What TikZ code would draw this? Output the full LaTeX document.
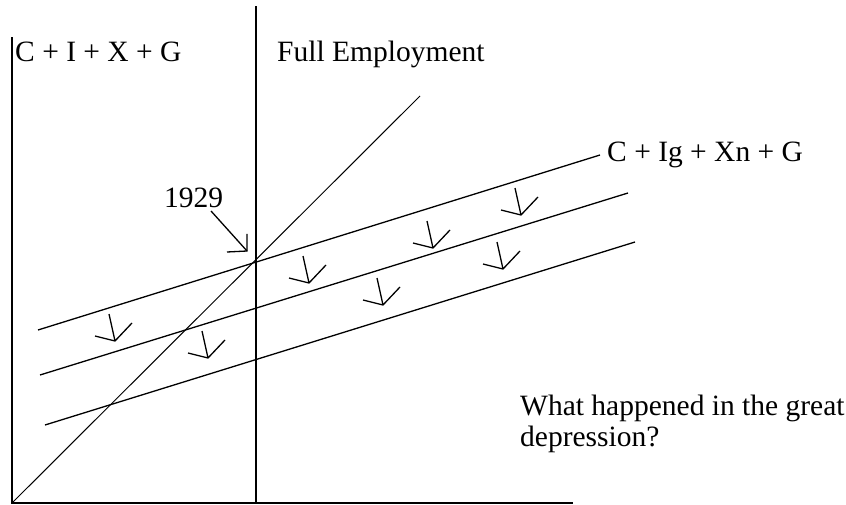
\documentclass[tikz,border=0pt]{standalone}
\usepackage{fontspec}
\setmainfont{Liberation Serif}
\begin{document}
\begin{tikzpicture}[x=1pt,y=-1pt,
  axis/.style={line width=1.8pt,line cap=rect},
  aeline/.style={line width=1.3pt},
  diagline/.style={line width=1pt},
  arr/.style={line width=1.3pt},
  lbl/.style={inner sep=0pt,font=\fontsize{29.5}{31}\selectfont},
  dnarr/.pic={\draw[arr] (-6,-27) -- (0,0) (-20,-5) -- (0,0) -- (17,-18);}]
\useasboundingbox (0,0) rectangle (846,505);
% axes
\coordinate (O) at (12,503);
\coordinate (ytop) at (12,38);
\coordinate (xend) at (572,503);
\draw[axis] (ytop) -- (O) -- (xend);
% full employment line
\coordinate (fetop) at (256,7);
\coordinate (febot) at (256,503);
\draw[axis] (fetop) -- (febot);
% 45 degree line
\coordinate (dend) at (420,96);
\draw[diagline] (O) -- (dend);
% aggregate expenditure lines
\coordinate (a1) at (38,330);  \coordinate (b1) at (600,155);
\coordinate (a2) at (40,375);  \coordinate (b2) at (628,193);
\coordinate (a3) at (45,425);  \coordinate (b3) at (635,242);
\draw[aeline] (a1) -- (b1);
\draw[aeline] (a2) -- (b2);
\draw[aeline] (a3) -- (b3);
% labels
\node[lbl,anchor=base west] (cixg) at (15,62) {C + I + X + G};
\node[lbl,anchor=base west] (fe) at (277,62) {Full Employment};
\node[lbl,anchor=base west] (yr) at (164,208) {1929};
\node[lbl,anchor=base west] (ae) at (607,162) {C + Ig + Xn + G};
\node[lbl,anchor=base west] (q1) at (520,415) {What happened in the great};
\node[lbl,anchor=base west] (q2) at (520,446) {depression?};
% 1929 arrow
\coordinate (yrstart) at (211,211);
\coordinate (yrtip) at (247,251);
\draw[arr] (yrstart) -- (yrtip);
\draw[arr] (247,234) -- (yrtip) -- (227,252);
% downward shift arrows
\foreach \p in {(115,341),(208,358),(309,283),(433,248),(521,215),(503,269),(383,305)}
  \pic at \p {dnarr};
\end{tikzpicture}
\end{document}
